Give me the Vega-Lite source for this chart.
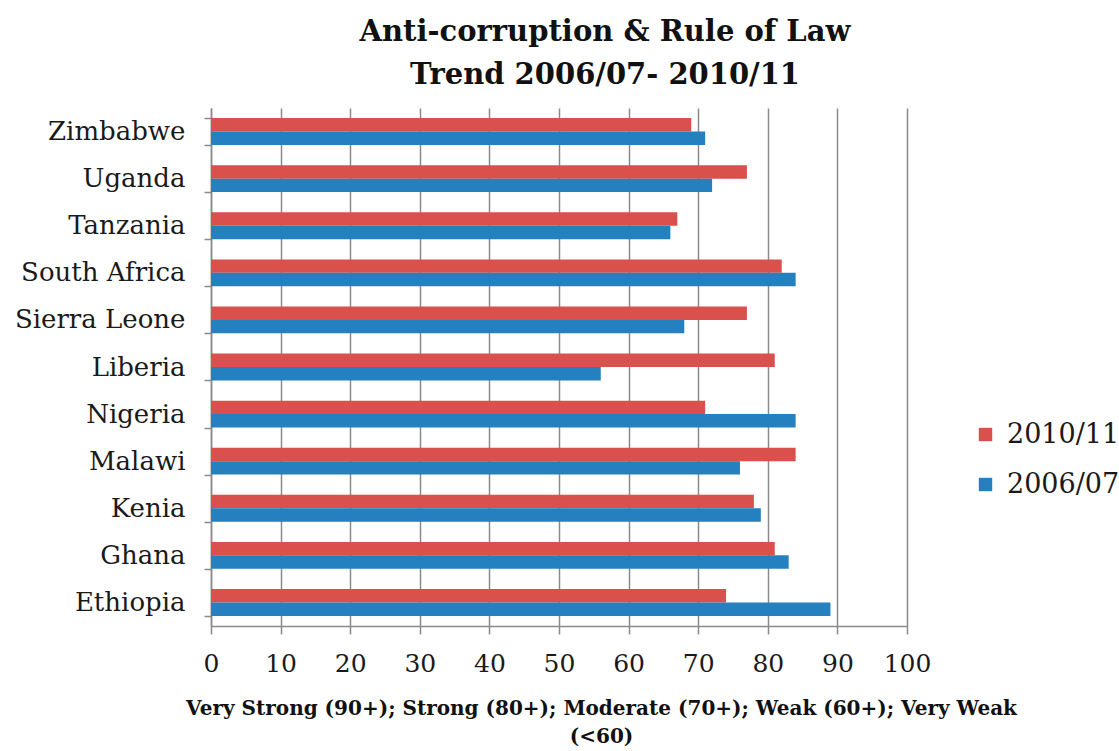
{
  "$schema": "https://vega.github.io/schema/vega-lite/v6.json",
  "autosize": {"type": "none"},
  "width": 696,
  "height": 518,
  "padding": {"left": 211, "top": 108, "right": 212, "bottom": 125},
  "background": "white",
  "config": {
    "view": {"stroke": null},
    "font": "DejaVu Serif"
  },
  "title": {
    "text": ["Anti-corruption & Rule of Law", "Trend 2006/07- 2010/11"],
    "font": "DejaVu Serif",
    "fontSize": 29,
    "fontWeight": "bold",
    "color": "#111111",
    "lineHeight": 43,
    "anchor": "middle",
    "dx": 46,
    "offset": 5
  },
  "data": {
    "values": [
      {"country": "Zimbabwe", "period": "2010/11", "score": 69},
      {"country": "Zimbabwe", "period": "2006/07", "score": 71},
      {"country": "Uganda", "period": "2010/11", "score": 77},
      {"country": "Uganda", "period": "2006/07", "score": 72},
      {"country": "Tanzania", "period": "2010/11", "score": 67},
      {"country": "Tanzania", "period": "2006/07", "score": 66},
      {"country": "South Africa", "period": "2010/11", "score": 82},
      {"country": "South Africa", "period": "2006/07", "score": 84},
      {"country": "Sierra Leone", "period": "2010/11", "score": 77},
      {"country": "Sierra Leone", "period": "2006/07", "score": 68},
      {"country": "Liberia", "period": "2010/11", "score": 81},
      {"country": "Liberia", "period": "2006/07", "score": 56},
      {"country": "Nigeria", "period": "2010/11", "score": 71},
      {"country": "Nigeria", "period": "2006/07", "score": 84},
      {"country": "Malawi", "period": "2010/11", "score": 84},
      {"country": "Malawi", "period": "2006/07", "score": 76},
      {"country": "Kenia", "period": "2010/11", "score": 78},
      {"country": "Kenia", "period": "2006/07", "score": 79},
      {"country": "Ghana", "period": "2010/11", "score": 81},
      {"country": "Ghana", "period": "2006/07", "score": 83},
      {"country": "Ethiopia", "period": "2010/11", "score": 74},
      {"country": "Ethiopia", "period": "2006/07", "score": 89}
    ]
  },
  "mark": {"type": "bar"},
  "encoding": {
    "y": {
      "field": "country",
      "type": "nominal",
      "sort": ["Zimbabwe", "Uganda", "Tanzania", "South Africa", "Sierra Leone", "Liberia", "Nigeria", "Malawi", "Kenia", "Ghana", "Ethiopia"],
      "scale": {"paddingInner": 0.43, "paddingOuter": 0.215},
      "axis": {
        "title": null,
        "tickBand": "extent",
        "tickSize": 7,
        "tickColor": "#8a8a8a",
        "tickWidth": 1.5,
        "domainColor": "#8a8a8a",
        "domainWidth": 1.5,
        "labelFont": "DejaVu Serif",
        "labelFontSize": 26,
        "labelColor": "#1a1a1a",
        "labelPadding": 19,
        "grid": false
      }
    },
    "yOffset": {
      "field": "period",
      "type": "nominal",
      "sort": ["2010/11", "2006/07"]
    },
    "x": {
      "field": "score",
      "type": "quantitative",
      "scale": {"domain": [0, 100], "nice": false},
      "axis": {
        "values": [0, 10, 20, 30, 40, 50, 60, 70, 80, 90, 100],
        "grid": true,
        "gridColor": "#8a8a8a",
        "gridWidth": 1.5,
        "tickColor": "#8a8a8a",
        "tickWidth": 1.5,
        "tickSize": 8,
        "domainColor": "#8a8a8a",
        "domainWidth": 1.5,
        "labelFont": "DejaVu Serif",
        "labelFontSize": 25,
        "labelColor": "#1a1a1a",
        "labelPadding": 17,
        "labelFlush": false,
        "labelOverlap": false,
        "title": ["Very Strong (90+); Strong (80+); Moderate (70+); Weak (60+); Very Weak", "(<60)"],
        "titleFont": "DejaVu Serif",
        "titleFontSize": 20,
        "titleFontWeight": "bold",
        "titleColor": "#111111",
        "titleX": 390,
        "titleY": 72,
        "titleAlign": "center",
        "titleBaseline": "top",
        "titleLineHeight": 28
      }
    },
    "color": {
      "field": "period",
      "type": "nominal",
      "scale": {"domain": ["2010/11", "2006/07"], "range": ["#d9504d", "#2580bf"]},
      "legend": {
        "title": null,
        "orient": "none",
        "legendX": 761,
        "legendY": 313,
        "padding": 0,
        "symbolType": "square",
        "symbolSize": 180,
        "symbolStrokeWidth": 0,
        "labelFont": "DejaVu Serif",
        "labelFontSize": 27,
        "labelColor": "#1a1a1a",
        "labelOffset": 8,
        "rowPadding": 22
      }
    }
  }
}
